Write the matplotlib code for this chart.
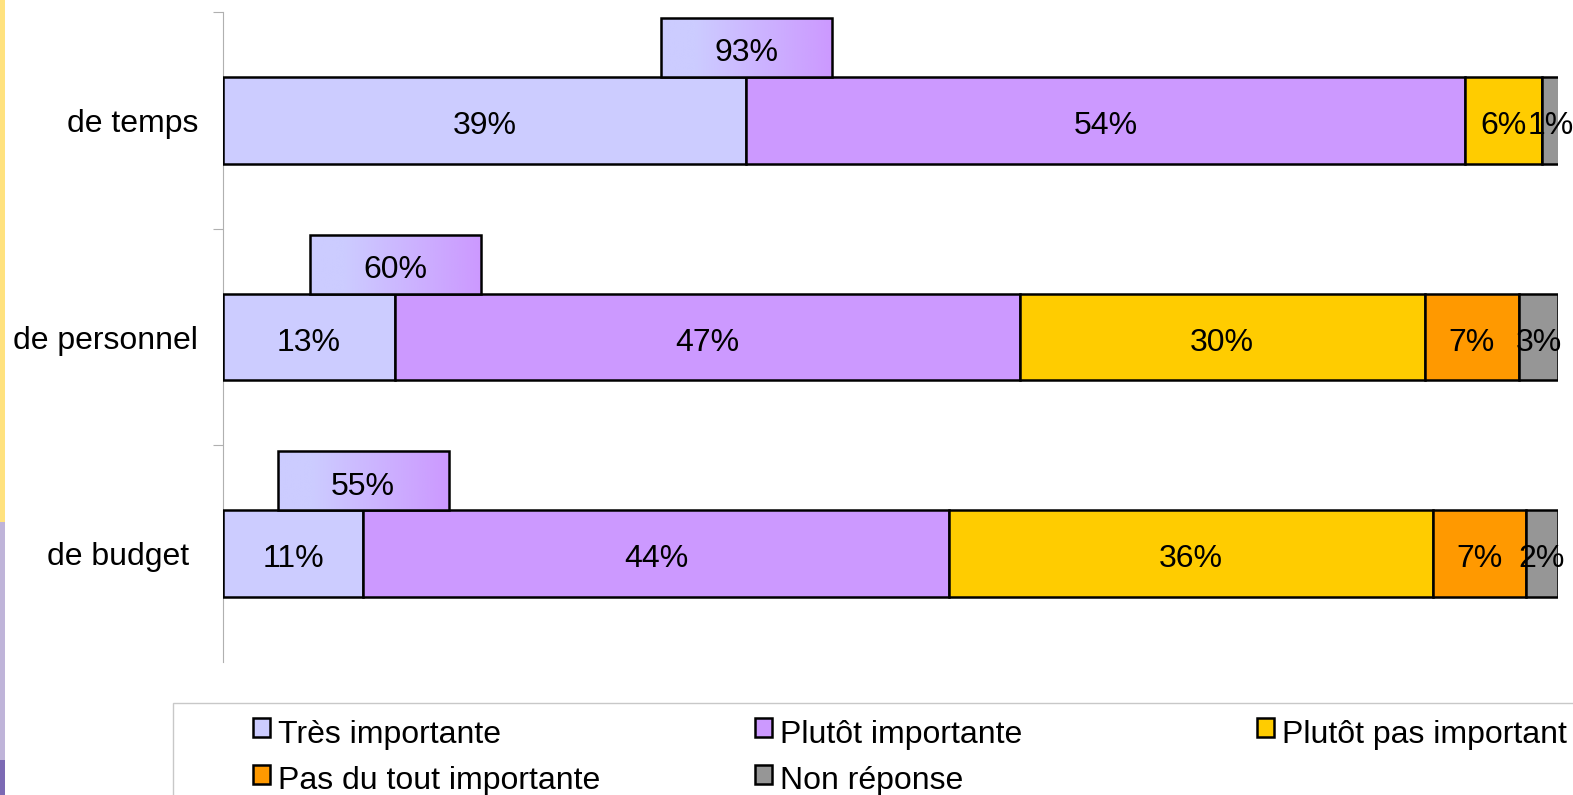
import matplotlib
matplotlib.use("Agg")
import matplotlib.pyplot as plt
import numpy as np
from matplotlib.colors import LinearSegmentedColormap
from matplotlib.patches import Rectangle

plt.rcParams["font.family"] = ["Liberation Sans", "DejaVu Sans"]

W, H = 1573, 795
FS = 23

# ---- data ----
categories = ["de budget ", "de personnel", "de temps"]     # bottom to top
series_names = ["Très importante", "Plutôt importante", "Plutôt pas important",
                "Pas du tout importante", "Non réponse"]
colors = ["#CCCCFF", "#CC99FF", "#FFCC00", "#FF9900", "#969696"]
tres = [10.5, 12.9, 39.2]
plutot = [43.9, 46.8, 53.8]
plutot_pas = [36.2, 30.3, 5.8]
pas_du_tout = [7.0, 7.1, 0.0]
non_rep = [2.4, 2.9, 1.3]
labels = [["11%", "44%", "36%", "7%", "2%"],
          ["13%", "47%", "30%", "7%", "3%"],
          ["39%", "54%", "6%", "", "1%"]]
total_important = ["55%", "60%", "93%"]

values = [tres, plutot, plutot_pas, pas_du_tout, non_rep]

fig = plt.figure(figsize=(W / 100, H / 100), dpi=100)
ax = fig.add_axes([223 / W, 1 - 662 / H, 1335 / W, 650 / H])

y = np.arange(len(categories))
bar_h = 0.4
left = np.zeros(len(categories))
for i, (vals, col) in enumerate(zip(values, colors)):
    vals = np.array(vals)
    ax.barh(y, vals, left=left, height=bar_h, color=col, edgecolor="black",
            linewidth=1.8, zorder=3)
    for j in range(len(categories)):
        if labels[j][i]:
            ax.text(left[j] + vals[j] / 2, y[j] - 0.01, labels[j][i], ha="center",
                    va="center_baseline", fontsize=FS, zorder=5)
    left = left + vals

# summary boxes (Très + Plutôt importante) centred on the boundary between the two
grad = LinearSegmentedColormap.from_list("g", [(0, "#CCCCFF"), (0.2, "#CCCCFF"), (1, "#CC99FF")])
box_w, box_h = 12.8, 0.272
for j in range(len(categories)):
    cx = tres[j]
    x0, y0 = cx - box_w / 2, y[j] + bar_h / 2
    ax.imshow(np.linspace(0, 1, 256).reshape(1, -1), cmap=grad, aspect="auto",
              extent=[x0, x0 + box_w, y0, y0 + box_h], zorder=3)
    ax.add_patch(Rectangle((x0, y0), box_w, box_h, facecolor="none", edgecolor="black",
                           linewidth=1.8, zorder=4))
    ax.text(cx, y0 + box_h / 2 - 0.01, total_important[j], ha="center",
            va="center_baseline", fontsize=FS, zorder=5)

ax.set_xlim(0, 100)
ax.set_ylim(-0.5, 2.5)
for s in ["top", "right", "bottom"]:
    ax.spines[s].set_visible(False)
ax.spines["left"].set_color("#b0b0b0")
ax.spines["left"].set_linewidth(0.8)
ax.set_xticks([])
ax.set_yticks([0.5, 1.5, 2.5])
ax.set_yticklabels([])
ax.tick_params(axis="y", which="major", length=7, color="#b0b0b0", width=0.8)
ax.set_yticks(y, minor=True)
ax.set_yticklabels(categories, minor=True, fontsize=FS)
ax.tick_params(axis="y", which="minor", length=0, pad=18)

# left decorative stripe
fig.add_artist(Rectangle((0, 1 - 522 / H), 5 / W, 522 / H, transform=fig.transFigure,
                         facecolor="#FFE27F", edgecolor="none"))
fig.add_artist(Rectangle((0, 1 - 760 / H), 5 / W, 238 / H, transform=fig.transFigure,
                         facecolor="#BFB4D9", edgecolor="none"))
fig.add_artist(Rectangle((0, 0), 5 / W, 35 / H, transform=fig.transFigure,
                         facecolor="#7C6AB4", edgecolor="none"))

# legend (cut off at the right and bottom, as in the reference)
fig.add_artist(Rectangle((173 / W, -0.05), 1.0, 1 - 703 / H + 0.05, transform=fig.transFigure,
                         facecolor="none", edgecolor="#c8c8c8", linewidth=1))
col_x = [253, 755, 1257]
row_y = [728, 775]
for k, (name, col) in enumerate(zip(series_names, colors)):
    cx = col_x[k % 3]
    cy = row_y[k // 3]
    fig.add_artist(Rectangle((cx / W, 1 - (cy + 9) / H), 17 / W, 19 / H,
                             transform=fig.transFigure, facecolor=col,
                             edgecolor="black", linewidth=1.8))
    fig.text((cx + 25) / W, 1 - (cy + 3) / H, name, ha="left", va="center_baseline",
             fontsize=FS)

fig.savefig("out.png", dpi=100)
